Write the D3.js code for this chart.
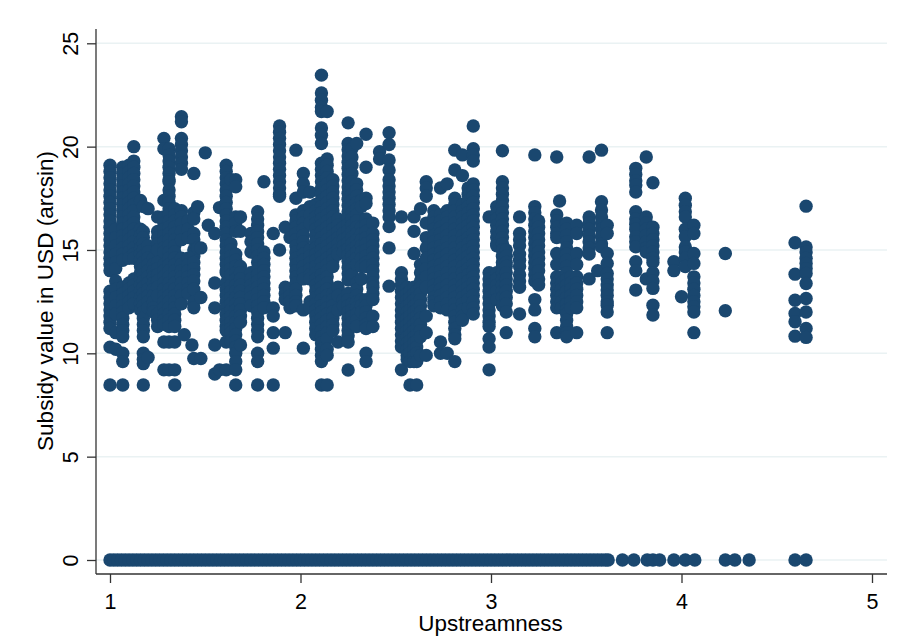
<!DOCTYPE html>
<html>
<head>
<meta charset="utf-8">
<script src="https://cdn.jsdelivr.net/npm/d3@7"></script>
<style>
	html, body { margin: 0; padding: 0; background: #fff; }
	text { font-family: "Liberation Sans", Arial, sans-serif; fill: #000; }
</style>
</head>
<body>
<div id="chart"></div>
<script>
// upstreamness of each vertical stack of points
var upstream = [1.00,1.03,1.067,1.10,1.125,1.16,1.175,1.20,1.228,1.25,1.283,1.31,1.34,1.375,1.39,1.41,1.43,1.44,1.46,1.477,1.50,1.516,1.55,1.575,1.61,1.635,1.66,1.685,1.74,1.775,1.808,1.857,1.89,1.92,1.945,1.976,2.015,2.05,2.08,2.11,2.14,2.17,2.197,2.225,2.25,2.27,2.295,2.32,2.344,2.38,2.415,2.465,2.53,2.56,2.575,2.596,2.61,2.63,2.66,2.70,2.735,2.77,2.81,2.85,2.88,2.907,2.99,3.03,3.06,3.08,3.15,3.23,3.25,3.345,3.36,3.37,3.397,3.42,3.45,3.515,3.56,3.58,3.61,3.76,3.815,3.85,3.96,4.00,4.02,4.065,4.23,4.596,4.654];

var subsidy = [
	[19.1,18.8,18.5,18.2,17.9,17.6,17.3,17.0,16.7,16.4,16.1,15.8,15.5,15.2,14.9,14.6,14.3,14.0,13.0,12.7,12.4,12.1,11.8,11.5,11.2,10.3,8.47],
	[16.0,15.6,15.2,14.8,14.4,14.1,13.5,13.1,12.7,12.3,11.9,11.0,10.2],
	[19.0,18.7,18.4,18.1,17.8,17.5,17.2,16.9,16.6,16.3,16.0,15.7,15.4,15.1,14.8,14.5,13.2,12.9,12.6,12.3,12.0,11.7,11.4,11.1,10.8,10.0,9.6,8.47],
	[19.1,18.8,18.5,18.2,17.9,17.6,17.3,17.0,16.7,16.4,16.1,15.8,15.5,15.2,14.9,14.6,13.4,13.1,12.8,12.5,12.2],
	[20.0,19.3,19.0,18.7,18.4,18.1,17.8,17.5,17.2,16.9,16.6,16.3,16.0,15.7,15.4,15.1,14.8,14.6,13.6,13.3,13.0,12.7,12.4],
	[17.4,16.0,15.7,15.4,15.1,14.8,14.5,14.2,13.9,13.6,13.3,13.0,12.7,12.4,12.1],
	[17.1,15.9,15.6,15.3,15.0,14.7,14.4,14.1,13.8,13.5,13.2,12.9,12.6,12.3,12.0,11.7,11.4,11.1,10.8,10.0,9.7,9.5,8.47],
	[17.0,15.2,14.9,14.6,14.3,14.0,13.7,13.4,13.1,12.8,12.5,12.2,9.8],
	[14.6,14.3,14.0,13.7,13.4,13.1,12.8,12.5,12.2,12.0],
	[16.6,15.9,15.6,15.3,15.0,14.4,14.1,13.8,13.5,13.2,12.8,11.9,11.6,11.3],
	[20.4,19.9,17.4,16.6,16.3,16.0,15.7,15.4,15.1,14.9,14.3,14.0,13.7,13.4,13.1,12.8,12.5,12.2,11.9,11.6,11.4,10.55,9.2],
	[19.9,19.6,19.3,19.0,18.7,18.4,18.3,17.9,17.6,17.3,17.0,16.7,16.4,16.1,15.8,15.5,15.2,14.9,14.6,14.3,14.0,13.7,13.4,13.1,12.8,12.5,12.2,11.9,11.6,11.3,10.55,9.2],
	[17.0,16.7,16.4,16.1,15.8,15.5,15.2,14.9,14.6,14.3,14.0,13.7,13.4,13.1,12.8,12.5,12.2,11.9,11.6,11.3,10.55,9.2,8.47],
	[21.45,21.2,20.4,20.1,19.8,19.5,19.2,18.9,16.9,16.6,16.3,15.9,15.5,14.6,14.3,14.0,13.7,13.4,13.1,12.8,12.4],
	[10.9],
	[16.4,16.0,15.6,14.6,14.3,14.0,13.7,13.4,13.1,12.9],
	[10.4],
	[18.7,16.8,16.5,15.8,15.5,15.0,14.7,14.4,14.1,13.8,13.5,13.1,12.5,12.2,9.75],
	[17.1,15.1],
	[12.7,15.1,9.75],
	[19.7],
	[16.2],
	[15.8,13.4,12.2,10.4,9.0],
	[17.05,9.2],
	[19.1,18.8,18.5,18.2,17.9,17.6,17.3,17.0,16.7,16.4,16.1,15.8,15.5,15.2,14.9,14.6,14.3,14.0,13.9,13.4,13.1,12.8,12.5,12.2,11.9,11.6,11.3,11.1,10.55,9.2],
	[18.4,15.3,15.0,14.7,14.4,14.1,13.8,13.3,13.0,12.7,12.4,12.1,11.8,11.5,11.2,11.0,10.6],
	[18.4,18.06,16.6,16.3,15.9,14.8,14.5,14.2,13.9,13.6,13.3,13.0,12.7,12.4,12.1,11.8,11.5,11.2,10.9,10.6,10.3,10.0,9.6,9.2,8.47],
	[16.6,15.9,14.2,13.9,13.6,13.3,13.0,12.7,12.4,12.1,11.8,11.5,10.4],
	[15.8,15.4,14.9,13.9,13.6,13.3,13.0,12.7,12.3],
	[16.85,16.5,16.2,15.9,15.6,15.3,15.0,14.7,14.4,14.1,13.8,13.5,13.2,12.9,12.6,12.3,12.0,11.7,11.4,11.1,10.8,10.0,9.6,8.47],
	[18.3,14.9,14.6,14.3,14.0,13.7,13.4,13.1,12.8,12.5,12.2],
	[15.8,12.2,11.8,11.0,10.25,8.47],
	[21.0,20.7,20.4,20.1,19.8,19.5,19.2,18.9,18.6,18.3,18.0,17.7,17.6,15.0],
	[16.1,13.2,12.9,12.6,11.0],
	[15.6,13.1,12.8,12.5,12.2],
	[19.83,17.5,16.7,16.4,16.1,15.8,15.5,15.2,14.9,14.6,14.3,14.0,13.7,13.4,13.1,12.8,12.5,12.3],
	[18.7,18.2,17.8,16.9,16.6,16.3,16.0,15.7,15.4,15.1,14.8,14.5,14.2,13.9,13.6,12.1,10.25],
	[17.8,17.1,16.7,16.3,15.0,14.7,14.4,14.1,13.8,13.6,12.5,12.2],
	[17.2,16.9,16.6,16.3,16.0,15.7,15.4,15.1,14.8,14.5,14.2,13.9,13.6,13.3,13.0,12.7,12.4,12.1,11.8,11.5,11.2,10.9],
	[23.46,22.6,22.25,21.9,21.7,20.9,20.55,20.15,19.2,18.9,18.6,18.3,18.0,17.7,17.4,17.1,16.8,16.5,16.2,15.9,15.6,15.3,15.0,14.7,14.4,14.1,13.8,13.5,13.2,12.9,12.6,12.3,12.0,11.7,11.4,11.1,10.8,10.5,10.2,9.9,9.6,8.47],
	[21.7,19.4,19.1,18.8,18.5,18.2,17.9,17.6,17.3,17.0,16.7,16.4,16.1,15.8,15.5,15.2,14.9,14.6,14.3,14.0,13.7,13.4,13.1,12.8,12.5,12.2,11.9,11.6,11.3,11.0,10.7,10.2,9.9,8.47],
	[18.4,18.1,17.8,17.5,17.2,16.9,16.6,16.3,16.0,15.7,15.4,15.1,14.8,14.5,14.2,12.9,12.6,12.3,12.0,11.7,11.4,11.1],
	[16.5,16.2,15.9,15.6,15.3,15.0,14.8,13.2,12.8,12.1,10.55],
	[16.1,15.8,15.5,15.2,14.9,12.6,12.3],
	[21.15,20.15,19.85,19.55,19.25,18.95,18.65,18.35,18.05,17.75,17.45,17.15,16.85,16.55,16.25,15.95,15.65,15.35,15.05,14.75,14.45,14.15,13.85,13.55,12.9,12.6,12.3,12.0,11.7,11.4,11.1,10.85,10.55,9.19],
	[19.9,19.5,19.1,18.7,18.3,18.0,17.7,17.4,17.1,16.8,16.5,16.2,15.9,15.6,15.3,15.0,14.7,14.4,14.1,13.8,12.4,12.1,11.8,11.5],
	[20.15,18.2,17.9,17.6,17.3,17.0,16.7,16.4,16.1,15.8,15.5,15.2,14.9,14.6,14.3,13.4,13.1,12.8,12.5,12.2,11.9,11.6,11.3],
	[17.4,17.1,16.1,15.8,15.5,15.2,14.9,14.6,14.2,13.6,12.6,12.3,12.0],
	[20.6,19.0,17.5,17.25,16.5,16.2,15.9,15.6,15.3,15.0,14.7,14.4,14.2,12.6,12.3,12.0,11.7,11.4,11.2,10.0,9.6],
	[16.3,15.8,15.5,15.2,14.9,14.6,14.3,14.0,13.7,13.4,13.2,12.9,12.6,11.8,11.3],
	[19.75,19.4],
	[20.67,20.1,19.35,18.87,18.4,18.1,17.8,17.5,17.2,16.9,16.6,16.13,15.1,13.25],
	[16.6,13.9,13.6,13.3,13.0,12.7,12.4,12.1,11.8,11.5,11.2,10.9,10.6,10.3,9.2],
	[13.2,12.9,12.6,12.3,12.0,11.7,11.4,11.1,10.8,10.5,10.2,9.9,9.7],
	[13.0,12.7,12.4,12.1,11.8,11.5,11.2,10.9,10.6,10.3,10.0,9.6,8.47],
	[16.6,15.9,14.83,13.2,12.9,12.6,12.3,12.0,11.7,11.4,11.1,10.8,10.5,10.2,9.9,9.6],
	[13.0,12.7,12.4,12.1,11.8,11.5,11.2,10.9,10.6,10.3,10.0,9.6,8.47],
	[17.0,14.3,13.9,13.5,13.2,12.9,12.6,12.3,12.0,11.7,11.4,11.1,10.8,9.9],
	[18.3,18.0,17.6,16.3,15.6,15.1,14.6,14.1,13.7,13.2,11.8,11.0,9.9],
	[16.9,16.6,16.3,16.0,15.7,15.4,15.1,14.8,14.5,14.2,13.9,13.6,13.3,13.0,12.7,12.5,12.3],
	[18.0,16.7,16.4,16.1,15.8,15.5,15.2,14.9,14.6,14.3,14.0,13.7,13.4,13.1,12.8,12.5,12.2,10.55,10.0],
	[18.2,16.9,16.6,16.3,16.0,15.7,15.4,15.1,14.8,14.5,14.2,13.9,13.6,13.3,13.0,12.7,12.4,12.1,10.0],
	[19.83,18.87,17.5,17.2,16.9,16.6,16.3,16.0,15.7,15.4,15.1,14.8,14.5,14.2,13.9,13.6,13.3,13.0,12.7,12.4,12.1,11.8,11.5,11.2,10.9,10.7,9.6],
	[19.6,18.6,17.2,16.9,16.6,16.3,16.0,15.7,15.4,15.1,14.8,14.5,14.2,13.9,13.6,13.3,13.0,12.7,12.4,12.1,11.8,11.6],
	[18.0,17.7,17.4,17.1,16.8,16.5,16.2,15.9,15.6,15.3,15.0,14.7,14.4,14.1,13.8,13.5,13.2,12.9,12.6,12.2],
	[21.0,19.9,19.6,19.3,18.2,17.9,17.6,17.3,17.0,16.7,16.4,16.1,15.8,15.5,15.2,14.9,14.6,14.3,14.0,13.7,13.4,13.1,12.8,12.5,12.2,11.9],
	[16.6,13.9,13.6,13.3,13.0,12.7,12.4,12.1,11.8,11.5,11.3,10.7,10.3,9.2],
	[17.1,16.8,16.5,16.2,15.9,15.6,15.3,15.2,13.9,13.6,13.3,13.0,12.6],
	[19.8,18.3,18.0,17.7,17.4,17.1,16.8,16.5,16.2,15.9,15.6,15.3,15.0,14.7,14.4,14.2,13.9,13.6,13.3,13.0,12.7,12.3],
	[15.0,14.7,14.4,14.2,13.9,13.6,13.3,13.0,12.7,12.4,12.0,11.0],
	[16.6,15.8,15.5,15.2,14.8,14.5,14.2,13.8,13.5,13.2,11.9],
	[19.6,17.1,16.8,16.5,16.2,15.9,15.6,15.3,15.0,14.7,14.4,14.1,13.8,13.5,12.6,12.1,11.2,10.8],
	[16.4,16.1,15.8,15.5,15.2,14.9,14.6,14.3,14.0,13.6,13.3],
	[19.5,16.7,16.4,16.1,15.8,15.6,14.83,14.3,13.7,13.4,13.1,12.8,12.5,12.2,11.0],
	[17.37],
	[13.7,13.4,13.1,12.8,12.5,12.2],
	[16.3,16.0,15.7,15.4,15.1,14.8,14.5,14.2,13.9,13.6,13.3,13.0,12.7,12.4,12.1,11.9,11.6,11.3,11.0,10.8],
	[13.7,13.4,13.1,12.8,12.5,12.2],
	[16.2,15.8,14.83,14.3,13.7,13.4,13.1,12.8,12.5,12.2,11.0],
	[19.5,16.6,16.3,16.0,15.7,15.4,15.1,14.8,13.6],
	[14.0],
	[19.83,17.33,16.93,16.6,16.3,16.0,15.64,15.3,15.15],
	[16.2,15.8,14.83,14.35,13.86,13.6,13.3,13.06,12.8,12.5,12.33,12.0,11.0],
	[18.95,18.65,18.35,18.14,17.8,16.85,16.5,16.25,16.0,15.64,15.4,15.15,14.43,14.0,13.06],
	[19.5,16.6,16.3,16.0,15.7,15.4,15.1,14.9,13.6],
	[18.25,16.1,15.8,15.5,15.2,14.9,14.6,14.4,13.9,13.5,13.14,12.33,11.85],
	[14.43,14.0],
	[12.74],
	[17.5,17.17,16.85,16.6,16.0,15.64,15.15,14.9,14.6,14.2],
	[16.2,15.8,14.83,14.35,13.7,13.4,13.1,12.8,12.5,12.25,12.0,11.0],
	[14.83,12.06],
	[15.35,13.83,12.57,11.93,11.53,10.83],
	[17.12,15.15,14.9,14.6,14.35,14.1,13.86,13.38,12.65,12.0,11.2,10.77]
];

// points sitting on the zero line
var zeroUpstream = [1.00,1.02,1.04,1.06,1.08,1.10,1.12,1.14,1.16,1.18,1.20,1.22,1.24,1.26,1.28,1.30,1.32,1.34,1.36,1.38,1.40,1.42,1.44,1.46,1.48,1.50,1.52,1.54,1.56,1.58,1.60,1.62,1.64,1.66,1.68,1.70,1.72,1.74,1.76,1.78,1.80,1.82,1.84,1.86,1.88,1.90,1.92,1.94,1.96,1.98,2.00,2.02,2.04,2.06,2.08,2.10,2.12,2.14,2.16,2.18,2.20,2.22,2.24,2.26,2.28,2.30,2.32,2.34,2.36,2.38,2.40,2.42,2.44,2.46,2.48,2.50,2.52,2.54,2.56,2.58,2.60,2.62,2.64,2.66,2.68,2.70,2.72,2.74,2.76,2.78,2.80,2.82,2.84,2.86,2.88,2.90,2.92,2.94,2.96,2.98,3.00,3.02,3.04,3.06,3.08,3.10,3.12,3.14,3.16,3.18,3.20,3.22,3.24,3.26,3.28,3.30,3.32,3.34,3.36,3.38,3.40,3.42,3.44,3.46,3.48,3.50,3.52,3.54,3.56,3.58,3.60,3.615,3.69,3.75,3.82,3.85,3.885,3.96,4.02,4.07,4.23,4.28,4.355,4.596,4.654];

var xTicks = [1,2,3,4,5];
var yTicks = [0,5,10,15,20,25];

var w = 902;
var h = 642;
var navy = "#1a476f";

var xScale = d3.scaleLinear().domain([1,5]).range([110,872]);
var yScale = d3.scaleLinear().domain([0,25]).range([560,43.3]);

// plot frame, the axis lines stick out past the tick range
var left = 96;
var right = 887;
var top_ = 29;
var bottom = 574;

var svg = d3.select("#chart")
	.append("svg")
	.attr("width", w)
	.attr("height", h);

svg.append("rect")
	.attr("width", w)
	.attr("height", h)
	.attr("fill", "#fff");

// horizontal grid
svg.selectAll(".grid")
	.data(yTicks)
	.enter()
	.append("line")
	.attr("class", "grid")
	.attr("x1", left)
	.attr("x2", right)
	.attr("y1", function(d) { return yScale(d); })
	.attr("y2", function(d) { return yScale(d); })
	.attr("stroke", "#eaf2f3")
	.attr("stroke-width", 1.5);

var points = [];
upstream.forEach(function(x, i) {
	subsidy[i].forEach(function(y) {
		points.push({x: x, y: y});
	});
});
zeroUpstream.forEach(function(x) {
	points.push({x: x, y: 0});
});

svg.selectAll("circle")
	.data(points)
	.enter()
	.append("circle")
	.attr("cx", function(d) { return xScale(d.x); })
	.attr("cy", function(d) { return yScale(d.y); })
	.attr("r", 6.7)
	.attr("fill", navy);

// axes
var xAxis = d3.axisBottom(xScale)
	.tickValues(xTicks)
	.tickFormat(d3.format("d"))
	.tickSize(9);

var yAxis = d3.axisLeft(yScale)
	.tickValues(yTicks)
	.tickFormat(d3.format("d"))
	.tickSize(9);

var gx = svg.append("g")
	.attr("transform", "translate(0," + bottom + ")")
	.call(xAxis);
gx.select(".domain").remove();
gx.selectAll(".tick line").attr("stroke", "#333").attr("stroke-width", 1.3);
gx.selectAll(".tick text")
	.style("font-size", "21.5px")
	.attr("dy", null)
	.attr("y", 35);

var gy = svg.append("g")
	.attr("transform", "translate(" + left + ",0)")
	.call(yAxis);
gy.select(".domain").remove();
gy.selectAll(".tick line").attr("stroke", "#333").attr("stroke-width", 1.3);
gy.selectAll(".tick text")
	.style("font-size", "21.5px")
	.attr("text-anchor", "middle")
	.attr("dy", null)
	.attr("x", null)
	.attr("transform", "translate(-18,0) rotate(-90)");

svg.append("line")
	.attr("x1", left).attr("x2", right)
	.attr("y1", bottom).attr("y2", bottom)
	.attr("stroke", "#333").attr("stroke-width", 1.3);
svg.append("line")
	.attr("x1", left).attr("x2", left)
	.attr("y1", top_).attr("y2", bottom)
	.attr("stroke", "#333").attr("stroke-width", 1.3);

// axis titles
svg.append("text")
	.attr("x", 490.5)
	.attr("y", 631)
	.attr("text-anchor", "middle")
	.style("font-size", "22.4px")
	.text("Upstreamness");

svg.append("text")
	.attr("transform", "translate(53,301) rotate(-90)")
	.attr("text-anchor", "middle")
	.style("font-size", "22.6px")
	.text("Subsidy value in USD (arcsin)");
</script>
</body>
</html>
